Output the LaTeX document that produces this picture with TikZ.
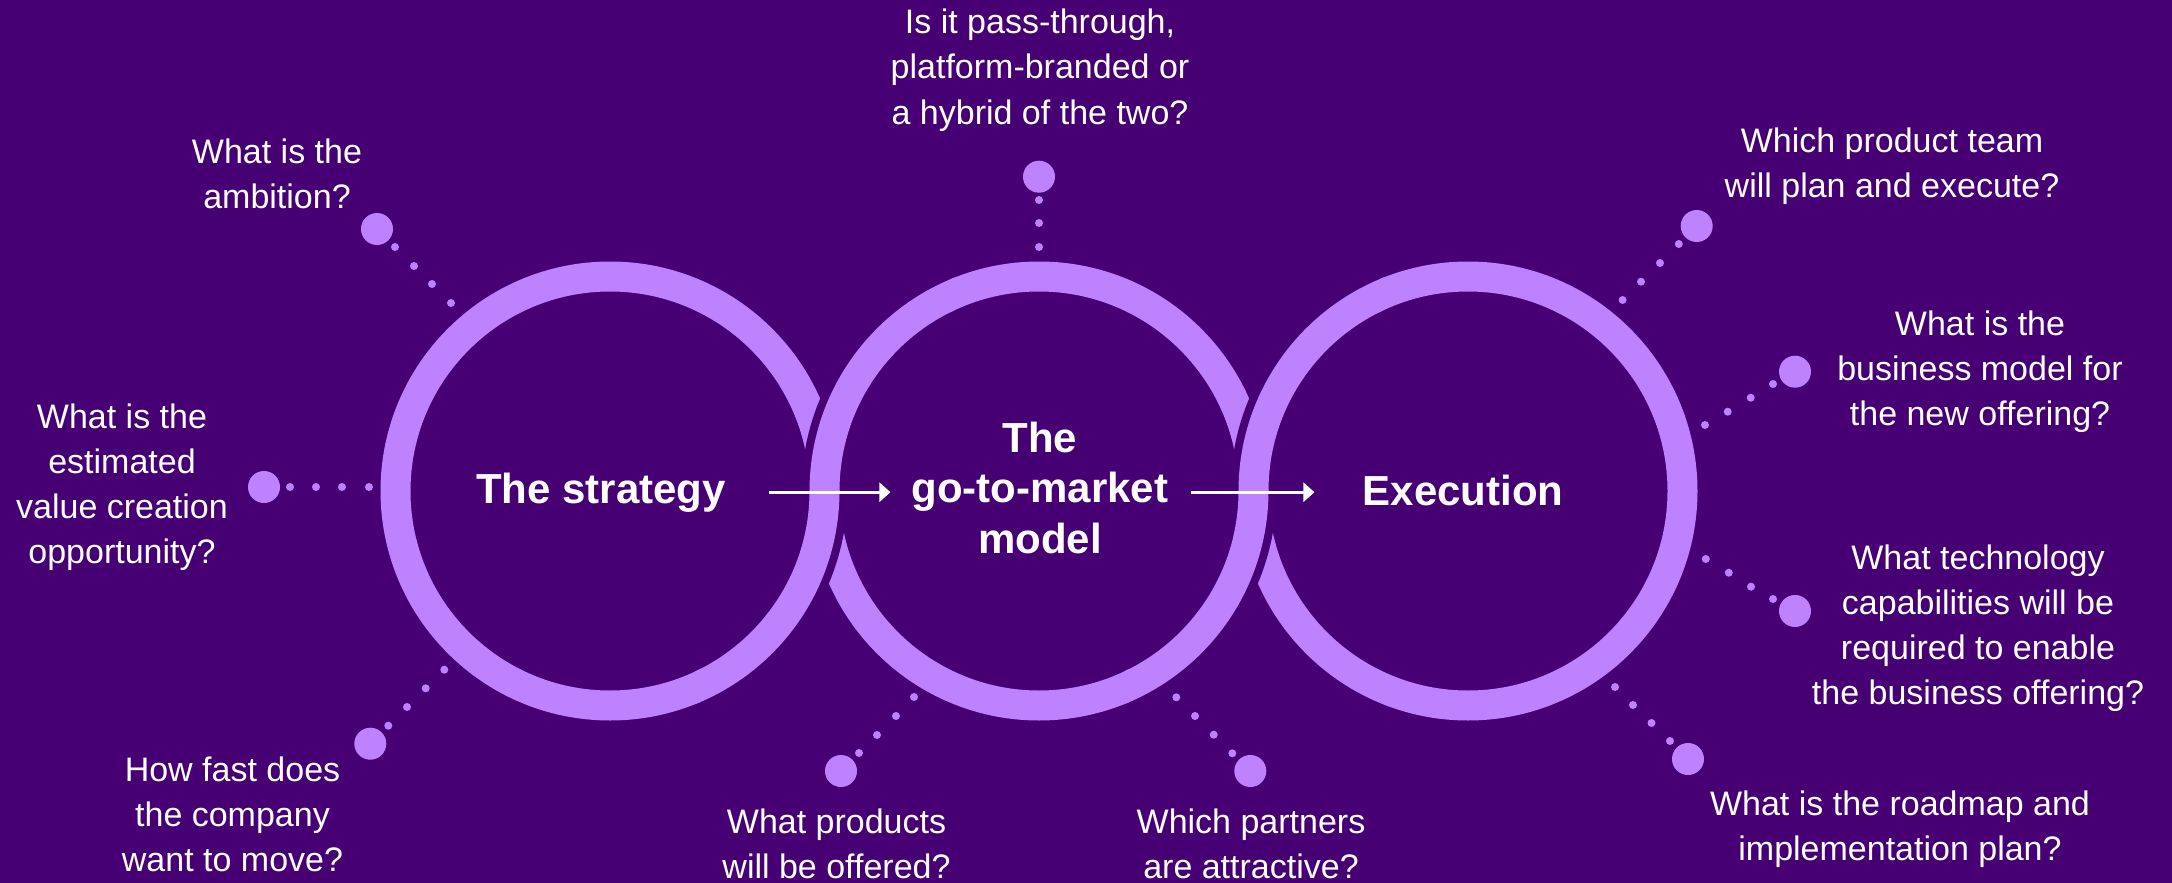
\documentclass[tikz,border=0pt]{standalone}
\usepackage{fontspec}
\setmainfont{Liberation Sans}
\usetikzlibrary{arrows.meta}
\definecolor{bgpurple}{HTML}{460073}
\definecolor{ringpurple}{HTML}{BE82FF}
\begin{document}
\begin{tikzpicture}[x=1pt,y=-1pt,
  ring/.style={draw=ringpurple, line width=30pt},
  ringgap/.style={draw=bgpurple, line width=46pt},
  question/.style={text=white, align=center, anchor=base, inner sep=0pt,
    font=\fontsize{34}{45}\selectfont},
  mainlabel/.style={text=white, align=center, anchor=base, inner sep=0pt,
    font=\fontsize{42}{50.5}\selectfont\bfseries},
  arr/.style={draw=white, line width=3pt, -{Triangle[length=11pt,width=19pt]}},
  dotfill/.style={fill=ringpurple},
]
\fill[bgpurple] (0,0) rectangle (2172,883);
\useasboundingbox (0,0) rectangle (2172,883);

\coordinate (c1) at (610,491);
\coordinate (c2) at (1039,491);
\coordinate (c3) at (1468,491);

% rings
\path[ring] (c1) circle[radius=214.5];
\path[ring] (c2) circle[radius=214.5];
\path[ring] (c3) circle[radius=214.5];

% interlocking: ring 2 over ring 1 at top, ring 1 over ring 2 at bottom
\begin{scope}
  \clip (700,150) rectangle (950,491);
  \path[ringgap] (c2) circle[radius=214.5];
\end{scope}
\begin{scope}
  \clip (695,150) rectangle (955,491.5);
  \path[ring] (c2) circle[radius=214.5];
\end{scope}
\begin{scope}
  \clip (700,491) rectangle (950,830);
  \path[ringgap] (c1) circle[radius=214.5];
\end{scope}
\begin{scope}
  \clip (695,490.5) rectangle (955,830);
  \path[ring] (c1) circle[radius=214.5];
\end{scope}
% ring 3 over ring 2 at top, ring 2 over ring 3 at bottom
\begin{scope}
  \clip (1129,150) rectangle (1379,491);
  \path[ringgap] (c3) circle[radius=214.5];
\end{scope}
\begin{scope}
  \clip (1124,150) rectangle (1384,491.5);
  \path[ring] (c3) circle[radius=214.5];
\end{scope}
\begin{scope}
  \clip (1129,491) rectangle (1379,830);
  \path[ringgap] (c2) circle[radius=214.5];
\end{scope}
\begin{scope}
  \clip (1124,490.5) rectangle (1384,830);
  \path[ring] (c2) circle[radius=214.5];
\end{scope}

% dot chains (small dots)
\foreach \x/\y in {451/303, 432/284, 414/266, 395/247,
                   369/487, 342/487, 316/487, 290/487,
                   444.3/669.7, 425.7/688.3, 407/707, 388.3/725.7,
                   1039/247, 1039/223, 1039/200,
                   914/697, 896/716, 877/735, 859/753,
                   1176.3/697.3, 1195/716, 1213.7/734.7, 1232.3/753.3,
                   1622.6/300, 1641/281.7, 1660/263, 1678.8/244,
                   1705/425, 1727.7/411.7, 1750.7/397.7, 1773/384,
                   1705.8/559, 1728.8/572.7, 1751/586.7, 1773/599,
                   1615/687, 1633/705, 1651.5/723, 1670/741}
  \fill[dotfill] (\x,\y) circle[radius=4];
% big dots
\foreach \x/\y in {377/229, 264/487, 370.3/743.7, 1039/176.7, 841/771,
                   1250.3/771, 1696.7/226, 1795/371.7, 1795/611, 1688/759}
  \fill[dotfill] (\x,\y) circle[radius=16];

% main labels
\node[mainlabel] (strat) at (601,503) {The strategy};
\node[mainlabel] (gtm) at (1040,553) {The\\go-to-market\\model};
\node[mainlabel] (exec) at (1463,505) {Execution};

% arrows
\path (strat.east) ++(43,0) coordinate (a1s);
\path (gtm.west |- a1s) ++(-21,0) coordinate (a1e);
\draw[arr] (a1s) -- (a1e);
\path (gtm.east |- a1s) ++(22,0) coordinate (a2s);
\path (exec.west |- a2s) ++(-48,0) coordinate (a2e);
\draw[arr] (a2s) -- (a2e);

% questions (anchored at the baseline of their last line)
\node[question] (q1) at (277,208) {What is the\\ambition?};
\node[question] (q2) at (122,563) {What is the\\estimated\\value creation\\opportunity?};
\node[question] (q3) at (232.5,871) {How fast does\\the company\\want to move?};
\node[question] (q4) at (1040,124) {Is it pass-through,\\platform-branded or\\a hybrid of the two?};
\node[question] (q5) at (836.5,878) {What products\\will be offered?};
\node[question] (q6) at (1251,878) {Which partners\\are attractive?};
\node[question] (q7) at (1892,197) {Which product team\\will plan and execute?};
\node[question] (q8) at (1980,425) {What is the\\business model for\\the new offering?};
\node[question] (q9) at (1978,704) {What technology\\capabilities will be\\required to enable\\the business offering?};
\node[question] (q10) at (1900,860) {What is the roadmap and\\implementation plan?};
\end{tikzpicture}
\end{document}
